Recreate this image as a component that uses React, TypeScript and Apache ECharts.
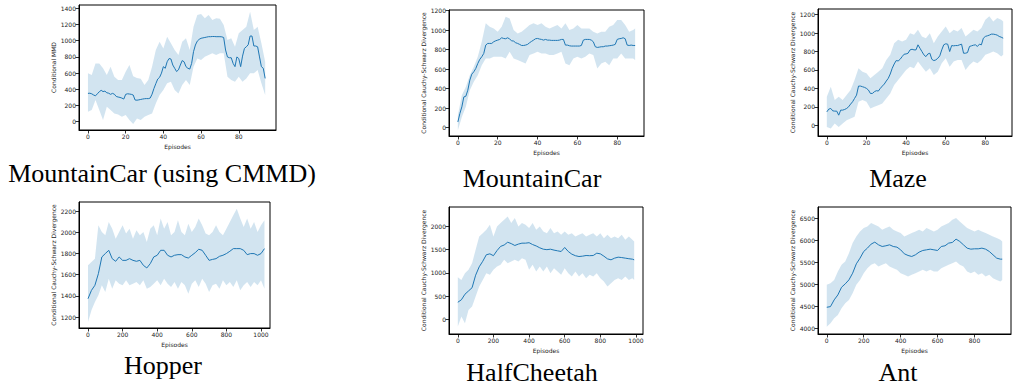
import React, { useEffect, useRef } from "react";
import * as echarts from "echarts";

// ---------- Panel 1: MountainCar (using CMMD) ----------
const p1Ep = Array.from({ length: 95 }, (_, i) => i);
const p1Mean = [350, 352, 345, 330, 320, 345, 370, 388, 372, 378, 358, 352, 338, 350, 340, 312, 305, 300, 292, 280,
  338, 345, 342, 338, 330, 268, 266, 270, 275, 280, 284, 286, 285, 292, 340, 410, 470, 527, 548, 600,
  680, 660, 740, 780, 775, 700, 660, 620, 640, 700, 755, 740, 680, 660, 650, 720, 865, 947, 995, 1017,
  1030, 1035, 1040, 1045, 1050, 1050, 1052, 1052, 1050, 1050, 1050, 1048, 1040, 885, 800, 790, 790, 720, 680, 800,
  780, 680, 810, 905, 925, 950, 1058, 1058, 935, 935, 925, 800, 680, 660, 535];
const p1BandEp = Array.from({ length: 48 }, (_, i) => i * 2);
const p1Upper = [600, 577, 720, 720, 660, 577, 680, 556, 515, 515, 618, 700, 560, 540, 530, 453, 515, 680, 885, 988,
  905, 1050, 968, 885, 824, 988, 1030, 885, 1174, 1318, 1330, 1277, 1318, 1256, 1277, 1270, 1194, 1009, 1030, 926,
  1091, 1132, 1174, 1359, 1132, 1174, 968, 740];
const p1Lower = [124, 144, 268, 144, 21, 185, 144, 103, 90, 62, 82, 21, -29, 41, 21, 62, 82, 103, 226, 330,
  391, 474, 494, 391, 350, 453, 515, 453, 680, 782, 762, 803, 824, 844, 824, 844, 844, 556, 515, 494,
  556, 494, 535, 597, 597, 638, 474, 330];

// ---------- Panel 2: MountainCar ----------
const p2Ep = Array.from({ length: 90 }, (_, i) => i);
const p2Mean = [58, 144, 213, 315, 322, 384, 487, 549, 573, 607, 658, 700, 727, 761, 847, 864, 864, 864, 881, 891,
  898, 905, 922, 915, 912, 922, 909, 891, 888, 871, 864, 854, 843, 843, 847, 854, 871, 885, 898, 912,
  915, 909, 905, 898, 905, 898, 898, 895, 895, 895, 895, 898, 905, 905, 847, 847, 840, 837, 837, 837,
  837, 837, 843, 898, 905, 905, 905, 898, 881, 830, 823, 826, 830, 830, 837, 837, 840, 843, 847, 854,
  905, 912, 915, 922, 912, 847, 843, 847, 843, 843];
const p2BandEp = [0, 2, 4, 6, 8, 10, 12, 14, 16, 18, 20, 22, 24, 26, 28, 30, 32, 34, 36, 38, 40, 42, 44, 46, 48, 50,
  52, 54, 56, 58, 60, 62, 64, 66, 68, 70, 72, 74, 76, 78, 80, 82, 84, 86, 88, 89];
const p2Upper = [127, 333, 418, 538, 624, 727, 881, 1070, 1035, 1018, 984, 1035, 1138, 1121, 1001, 967, 984, 1018, 1053, 1070,
  1053, 1070, 1035, 1018, 1035, 1053, 1018, 1070, 1001, 1018, 1053, 1018, 1018, 1018, 984, 967, 984, 984, 1035, 1053,
  1104, 1104, 1053, 984, 1001, 1018];
const p2Lower = [-27, 110, 213, 384, 470, 538, 641, 710, 710, 727, 727, 727, 710, 778, 710, 693, 675, 658, 744, 761,
  778, 761, 761, 744, 744, 761, 778, 658, 641, 710, 727, 710, 727, 761, 744, 607, 658, 675, 641, 710,
  710, 761, 710, 710, 710, 693];

// ---------- Panel 3: Maze ----------
const p3Ep = Array.from({ length: 90 }, (_, i) => i);
const p3Mean = [145, 175, 182, 156, 153, 153, 109, 164, 164, 171, 182, 200, 229, 255, 291, 327, 425, 425, 418, 411,
  400, 382, 345, 345, 364, 375, 371, 400, 425, 447, 480, 509, 556, 618, 665, 702, 698, 716, 745, 771,
  774, 782, 818, 825, 818, 818, 873, 836, 800, 764, 745, 774, 782, 716, 702, 709, 727, 753, 818, 873,
  884, 880, 800, 865, 862, 865, 865, 873, 880, 782, 782, 789, 855, 862, 869, 873, 855, 880, 873, 945,
  964, 971, 978, 989, 989, 985, 978, 964, 956, 945];
const p3BandEp = [0, 2, 4, 6, 8, 10, 12, 14, 16, 18, 20, 22, 24, 26, 28, 30, 32, 34, 36, 38, 40, 42, 44, 46, 48, 50,
  52, 54, 56, 58, 60, 62, 64, 66, 68, 70, 72, 74, 76, 78, 80, 82, 84, 86, 88, 89];
const p3Upper = [309, 418, 273, 309, 273, 327, 382, 491, 618, 582, 564, 509, 545, 582, 618, 709, 764, 891, 927, 909,
  927, 1000, 982, 1036, 964, 945, 1000, 891, 964, 1018, 1073, 1000, 1036, 1018, 1055, 964, 1000, 1036, 1018, 1055,
  1145, 1182, 1127, 1164, 1145, 1127];
const p3Lower = [-18, -36, 18, -18, 18, 55, 73, 91, 255, 273, 255, 182, 200, 218, 236, 291, 345, 436, 491, 545,
  600, 636, 618, 691, 636, 582, 618, 545, 582, 673, 727, 636, 691, 709, 709, 600, 654, 691, 673, 709,
  764, 782, 800, 782, 745, 764];

// ---------- Panel 4: Hopper ----------
const p4Ep = Array.from({ length: 52 }, (_, i) => i * 20);
const p4Mean = [1373, 1452, 1500, 1610, 1768, 1800, 1831, 1752, 1727, 1768, 1736, 1736, 1752, 1736, 1727, 1736, 1689, 1664, 1705, 1768,
  1784, 1831, 1831, 1784, 1768, 1784, 1790, 1790, 1768, 1758, 1784, 1809, 1841, 1831, 1784, 1736, 1745, 1752, 1774, 1784,
  1800, 1822, 1847, 1847, 1847, 1831, 1790, 1800, 1800, 1784, 1800, 1847];
const p4Upper = [1689, 1720, 1752, 2067, 2004, 1973, 2099, 2036, 1941, 2004, 2067, 1989, 2036, 1941, 2020, 1973, 2004, 1910, 2036, 2067,
  1973, 2131, 2036, 2099, 1973, 2004, 2115, 2004, 1973, 2083, 2004, 2052, 2131, 2067, 1989, 1973, 2004, 2067, 2004, 1973,
  2036, 2099, 2162, 2225, 2131, 2052, 2131, 2036, 2099, 2004, 2067, 2115];
const p4Lower = [1152, 1263, 1342, 1405, 1500, 1437, 1563, 1468, 1547, 1515, 1500, 1547, 1500, 1515, 1531, 1500, 1547, 1468, 1484, 1515,
  1547, 1500, 1563, 1515, 1484, 1531, 1468, 1531, 1500, 1421, 1515, 1547, 1484, 1563, 1515, 1437, 1500, 1515, 1468, 1547,
  1500, 1531, 1484, 1547, 1452, 1500, 1531, 1484, 1531, 1500, 1547, 1468];

// ---------- Panel 5: HalfCheetah ----------
const p5Ep = [...Array.from({ length: 50 }, (_, i) => i * 20), 990];
const p5Mean = [367, 420, 540, 610, 680, 950, 1130, 1250, 1390, 1410, 1370, 1480, 1570, 1600, 1660, 1630, 1590, 1620, 1640, 1640,
  1650, 1610, 1580, 1540, 1510, 1500, 1510, 1490, 1475, 1460, 1547, 1460, 1403, 1370, 1352, 1360, 1374, 1370, 1374, 1424,
  1410, 1360, 1302, 1281, 1317, 1338, 1330, 1317, 1305, 1295, 1281];
const p5Upper = [906, 849, 993, 1065, 1209, 1496, 1784, 1856, 1928, 2036, 1784, 2000, 2072, 2144, 2216, 2072, 2180, 2000, 2072, 2036,
  1964, 2072, 1928, 2000, 1892, 1856, 1964, 1856, 1892, 1820, 1892, 1820, 1856, 1784, 1820, 1856, 1784, 1820, 1856, 1784,
  1856, 1748, 1820, 1748, 1784, 1748, 1820, 1712, 1784, 1712, 1676];
const p5Lower = [-158, 58, -86, 201, 273, 489, 705, 849, 993, 957, 1065, 1137, 1173, 1281, 1209, 1245, 1281, 1245, 1317, 1281,
  1065, 1173, 1029, 1137, 1029, 1137, 993, 1101, 1029, 957, 1101, 993, 921, 1029, 921, 993, 885, 957, 921, 993,
  885, 813, 705, 777, 849, 885, 849, 921, 849, 885, 849];

// ---------- Panel 6: Ant ----------
const p6Ep = [...Array.from({ length: 48 }, (_, i) => i * 20), 950];
const p6Mean = [4480, 4495, 4648, 4762, 4937, 5014, 5105, 5258, 5471, 5601, 5753, 5829, 5921, 5966, 5905, 5867, 5883, 5905, 5867, 5852,
  5791, 5700, 5662, 5639, 5677, 5738, 5776, 5791, 5806, 5791, 5776, 5867, 5883, 5944, 5959, 6035, 5982, 5905, 5829, 5806,
  5814, 5814, 5829, 5806, 5753, 5677, 5601, 5578, 5578];
const p6Upper = [4991, 5029, 5105, 5296, 5448, 5524, 5715, 5944, 6096, 6210, 6287, 6325, 6401, 6363, 6325, 6249, 6287, 6325, 6249, 6210,
  6172, 6096, 6134, 6172, 6210, 6249, 6210, 6287, 6249, 6210, 6249, 6325, 6363, 6401, 6477, 6516, 6439, 6363, 6287, 6249,
  6210, 6249, 6210, 6172, 6134, 6096, 6058, 6020, 5982];
const p6Lower = [4038, 4114, 4229, 4305, 4457, 4572, 4648, 4800, 4991, 5105, 5258, 5372, 5448, 5486, 5410, 5448, 5486, 5410, 5372, 5334,
  5258, 5220, 5181, 5220, 5258, 5296, 5334, 5296, 5334, 5296, 5296, 5372, 5410, 5448, 5486, 5524, 5448, 5410, 5296, 5258,
  5296, 5220, 5258, 5181, 5220, 5143, 5105, 5067, 5105];

// ---------- Titles / labels / ticks ----------
const titles = ["MountainCar (using CMMD)", "MountainCar", "Maze", "Hopper", "HalfCheetah", "Ant"];
const yNames = [
  "Conditional MMD",
  "Conditional Cauchy-Schwarz Divergence",
  "Conditional Cauchy-Schwarz Divergence",
  "Conditional Cauchy-Schwarz Divergence",
  "Conditional Cauchy-Schwarz Divergence",
  "Conditional Cauchy-Schwarz Divergence",
];
const xTicksShort = [0, 20, 40, 60, 80];
const xTicksLong = [0, 200, 400, 600, 800, 1000];
const xTicksAnt = [0, 200, 400, 600, 800];
const yTicks1 = [0, 200, 400, 600, 800, 1000, 1200, 1400];
const yTicks2 = [0, 200, 400, 600, 800, 1000, 1200];
const yTicks4 = [1200, 1400, 1600, 1800, 2000, 2200];
const yTicks5 = [0, 500, 1000, 1500, 2000];
const yTicks6 = [4000, 4500, 5000, 5500, 6000, 6500];

const panels = [
  { ep: p1Ep, mean: p1Mean, bandEp: p1BandEp, up: p1Upper, lo: p1Lower, xt: xTicksShort, yt: yTicks1 },
  { ep: p2Ep, mean: p2Mean, bandEp: p2BandEp, up: p2Upper, lo: p2Lower, xt: xTicksShort, yt: yTicks2 },
  { ep: p3Ep, mean: p3Mean, bandEp: p3BandEp, up: p3Upper, lo: p3Lower, xt: xTicksShort, yt: yTicks2 },
  { ep: p4Ep, mean: p4Mean, bandEp: p4Ep, up: p4Upper, lo: p4Lower, xt: xTicksLong, yt: yTicks4 },
  { ep: p5Ep, mean: p5Mean, bandEp: p5Ep, up: p5Upper, lo: p5Lower, xt: xTicksLong, yt: yTicks5 },
  { ep: p6Ep, mean: p6Mean, bandEp: p6Ep, up: p6Upper, lo: p6Lower, xt: xTicksAnt, yt: yTicks6 },
];

// layout (pixels) and axis ranges
const layout = [
  { left: 79, top: 5, width: 197, height: 125, xMin: -4.75, xMax: 99.75, yMin: -102, yMax: 1441, tx: 162, ty: 173 },
  { left: 449, top: 10, width: 195, height: 126, xMin: -4.45, xMax: 93.45, yMin: -86, yMax: 1207, tx: 532, ty: 178 },
  { left: 818, top: 9, width: 194, height: 127, xMin: -4.45, xMax: 93.45, yMin: -117, yMax: 1262, tx: 898, ty: 178 },
  { left: 79, top: 202, width: 191, height: 126, xMin: -52, xMax: 1052, yMin: 1096, yMax: 2288, tx: 163, ty: 365 },
  { left: 449, top: 207, width: 194, height: 127, xMin: -49.5, xMax: 1039.5, yMin: -317, yMax: 2419, tx: 532, ty: 372 },
  { left: 818, top: 207, width: 193, height: 127, xMin: -47.5, xMax: 997.5, yMin: 3870, yMax: 6768, tx: 898, ty: 372 },
];

const BLUE = "#1f77b4";
const BAND = "rgba(31,119,180,0.2)";
const SMALL = { fontSize: 6, color: "#222", fontFamily: "DejaVu Sans" };
const plain = (v: number) => String(v);

export default function App() {
  const ref = useRef<HTMLDivElement>(null);
  useEffect(() => {
    if (!ref.current) return;
    const chart = echarts.init(ref.current, null, { renderer: "svg" });
    const grid: any[] = [];
    const xAxis: any[] = [];
    const yAxis: any[] = [];
    const series: any[] = [];
    const graphic: any[] = [];
    panels.forEach((p, i) => {
      const L = layout[i];
      grid.push({
        left: L.left, top: L.top, width: L.width, height: L.height,
        show: true, borderColor: "#000", borderWidth: 1, backgroundColor: "transparent",
      });
      xAxis.push({
        type: "value", gridIndex: i, min: L.xMin, max: L.xMax,
        axisLine: { show: true, onZero: false, lineStyle: { color: "#000", width: 1 } },
        axisTick: { show: true, length: 3.5, lineStyle: { color: "#000", width: 0.8 }, customValues: p.xt },
        axisLabel: { ...SMALL, margin: 3, customValues: p.xt, formatter: plain },
        splitLine: { show: false },
        name: "Episodes", nameLocation: "middle", nameGap: 13, nameTextStyle: { ...SMALL },
      });
      yAxis.push({
        type: "value", gridIndex: i, min: L.yMin, max: L.yMax,
        axisLine: { show: true, onZero: false, lineStyle: { color: "#000", width: 1 } },
        axisTick: { show: true, length: 3.5, lineStyle: { color: "#000", width: 0.8 }, customValues: p.yt },
        axisLabel: { ...SMALL, margin: 3, customValues: p.yt, formatter: plain },
        splitLine: { show: false },
        name: yNames[i], nameLocation: "middle", nameGap: 21, nameTextStyle: { ...SMALL },
      });
      const bEp = p.bandEp, up = p.up, lo = p.lo;
      series.push({
        type: "custom", xAxisIndex: i, yAxisIndex: i, silent: true, z: 1,
        data: bEp.map((x, j) => [x, lo[j], up[j]]),
        encode: { x: 0, y: [1, 2] },
        renderItem: (params: any, api: any) => {
          if (params.dataIndex !== 0) return null;
          const pts: number[][] = [];
          for (let j = 0; j < bEp.length; j++) pts.push(api.coord([bEp[j], up[j]]));
          for (let j = bEp.length - 1; j >= 0; j--) pts.push(api.coord([bEp[j], lo[j]]));
          return { type: "polygon", shape: { points: pts }, style: { fill: BAND, stroke: null } };
        },
      });
      series.push({
        type: "line", xAxisIndex: i, yAxisIndex: i, z: 2,
        data: p.ep.map((x, j) => [x, p.mean[j]]),
        showSymbol: false, symbol: "none",
        lineStyle: { color: BLUE, width: 1 }, itemStyle: { color: BLUE },
      });
      graphic.push({
        type: "text", x: L.tx, y: L.ty,
        style: {
          text: titles[i], fill: "#000", fontSize: 26, fontFamily: "'Liberation Serif'",
          align: "center", verticalAlign: "middle",
        },
      });
    });
    chart.setOption({ animation: false, backgroundColor: "#fff", grid, xAxis, yAxis, series, graphic });
    return () => chart.dispose();
  }, []);
  return (
    <div
      ref={ref}
      style={{ position: "fixed", left: 0, top: 0, width: 1013, height: 385, background: "#fff" }}
    />
  );
}
